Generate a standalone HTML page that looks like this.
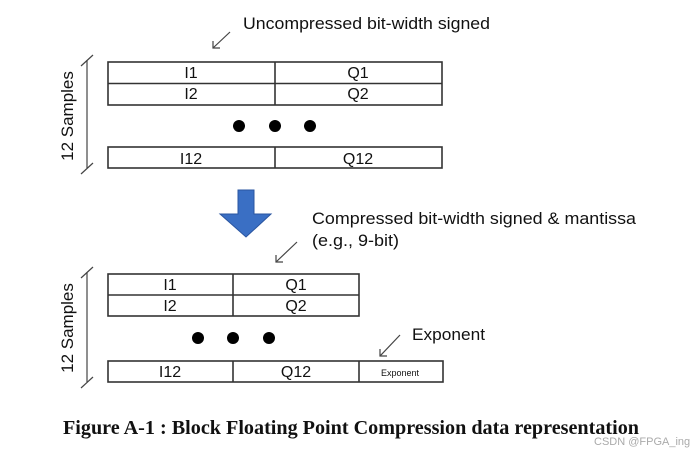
<!DOCTYPE html>
<html><head><meta charset="utf-8"><style>
html,body{margin:0;padding:0;background:#fff;width:696px;height:454px;overflow:hidden}
svg text{font-family:"Liberation Sans",Arial,sans-serif;fill:#111}
</style></head><body>
<svg width="696" height="454" viewBox="0 0 696 454" xmlns="http://www.w3.org/2000/svg">
<g stroke="#333" stroke-width="1.6" fill="none">
<rect x="108" y="62" width="334" height="43"/>
<line x1="108" y1="83.5" x2="442" y2="83.5"/>
<line x1="275" y1="62" x2="275" y2="105"/>
<rect x="108" y="147" width="334" height="21"/>
<line x1="275" y1="147" x2="275" y2="168"/>
<rect x="108" y="274" width="251" height="42"/>
<line x1="108" y1="295" x2="359" y2="295"/>
<line x1="233" y1="274" x2="233" y2="316"/>
<rect x="108" y="361" width="335" height="21"/>
<line x1="233" y1="361" x2="233" y2="382"/>
<line x1="359" y1="361" x2="359" y2="382"/>
</g>
<g stroke="#444" stroke-width="1.2" fill="none">
<line x1="87" y1="60" x2="87" y2="168"/>
<line x1="81" y1="66" x2="93" y2="55"/>
<line x1="81" y1="174" x2="93" y2="163"/>
<line x1="87" y1="272" x2="87" y2="382"/>
<line x1="81" y1="278" x2="93" y2="267"/>
<line x1="81" y1="388" x2="93" y2="377"/>
<line x1="230" y1="32" x2="213" y2="48"/><polyline points="213,41 213,48 220,48"/>
<line x1="297" y1="242" x2="276" y2="262"/><polyline points="276,255 276,262 283,262"/>
<line x1="400" y1="335" x2="380" y2="356"/><polyline points="380,349 380,356 387,356"/>
</g>
<g fill="#000">
<circle cx="239" cy="126" r="6"/><circle cx="275" cy="126" r="6"/><circle cx="310" cy="126" r="6"/>
<circle cx="198" cy="338" r="6"/><circle cx="233" cy="338" r="6"/><circle cx="269" cy="338" r="6"/>
</g>
<polygon points="238,190 254,190 254,214 271,214 246,237 220,214 238,214" fill="#3a6fc4" stroke="#2a55a0" stroke-width="1"/>
<g font-size="16" text-anchor="middle">
<text x="191" y="78">I1</text><text x="358" y="78">Q1</text>
<text x="191" y="99">I2</text><text x="358" y="99">Q2</text>
<text x="191" y="164">I12</text><text x="358" y="164">Q12</text>
<text x="170" y="290">I1</text><text x="296" y="290">Q1</text>
<text x="170" y="311">I2</text><text x="296" y="311">Q2</text>
<text x="170" y="377">I12</text><text x="296" y="377">Q12</text>
</g>
<text x="400" y="376" font-size="9" text-anchor="middle">Exponent</text>
<g font-size="17">
<text x="243" y="29" textLength="247" lengthAdjust="spacingAndGlyphs">Uncompressed bit-width  signed</text>
<text x="312" y="224" textLength="324" lengthAdjust="spacingAndGlyphs">Compressed bit-width  signed &amp; mantissa</text>
<text x="312" y="246" textLength="87" lengthAdjust="spacingAndGlyphs">(e.g., 9-bit)</text>
<text x="412" y="340" textLength="73" lengthAdjust="spacingAndGlyphs">Exponent</text>
</g>
<text transform="translate(73,116) rotate(-90)" font-size="17" text-anchor="middle" fill="#333">12 Samples</text>
<text transform="translate(73,328) rotate(-90)" font-size="17" text-anchor="middle" fill="#333">12 Samples</text>
<text x="63" y="434" font-weight="bold" font-size="20" textLength="576" lengthAdjust="spacingAndGlyphs" style="font-family:'Liberation Serif',serif">Figure A-1 : Block Floating Point Compression data representation</text>
<text x="594" y="445" font-size="11" style="fill:#aaa">CSDN @FPGA_ing</text>
</svg>
</body></html>
